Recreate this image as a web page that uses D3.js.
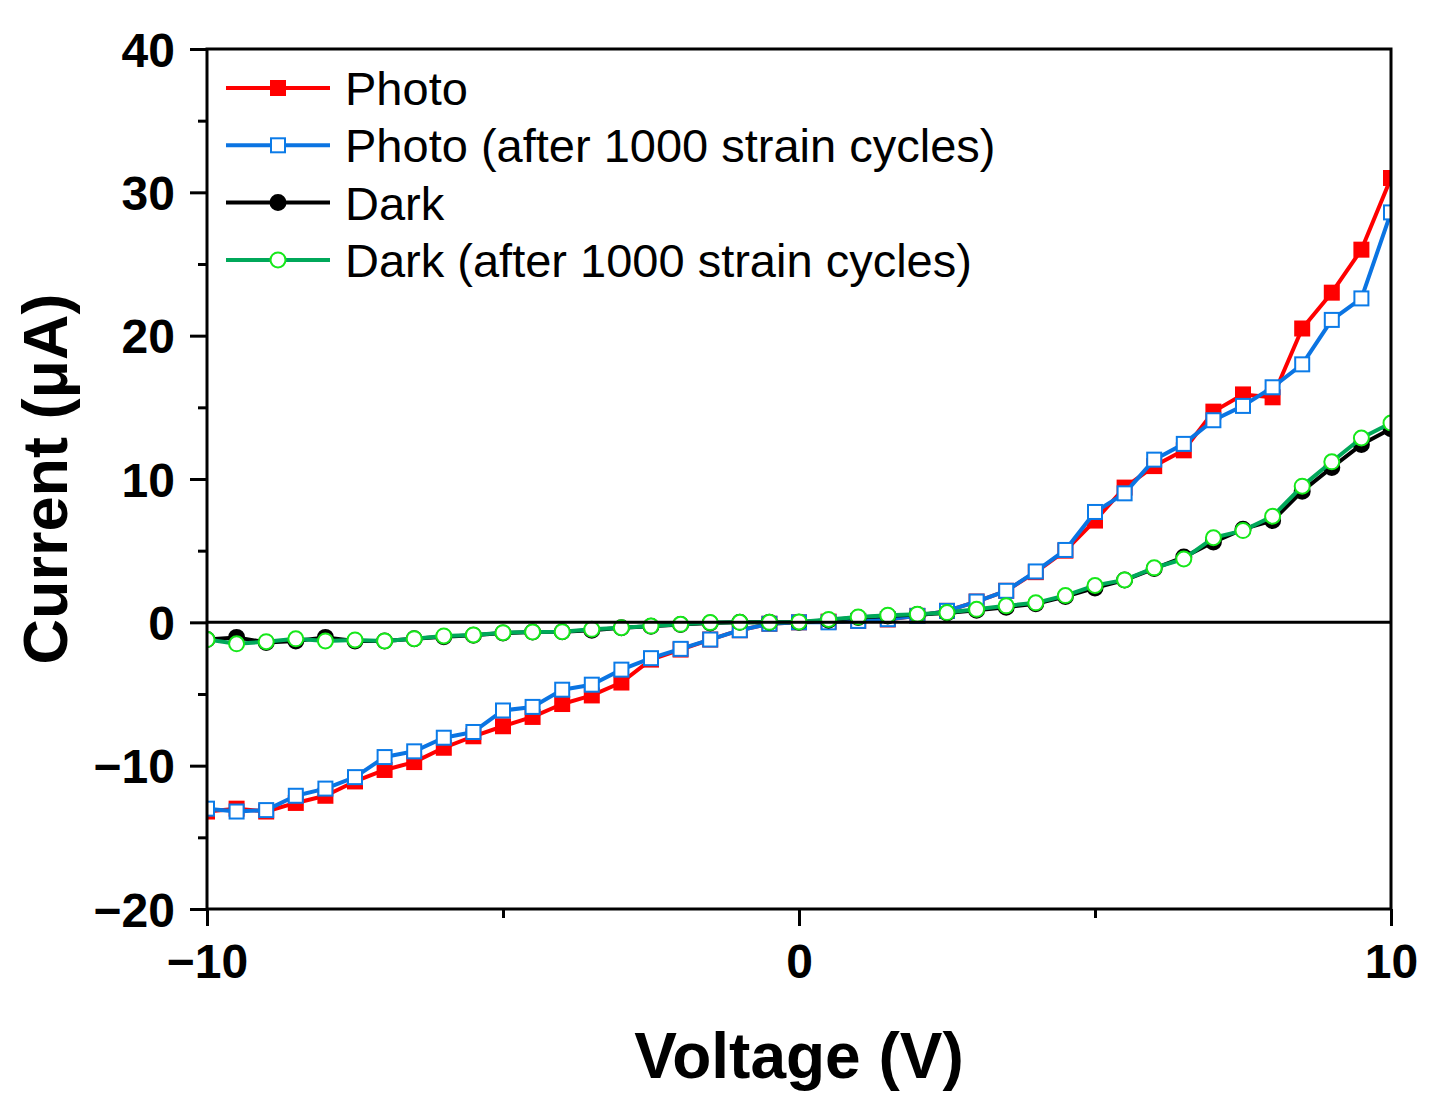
<!DOCTYPE html>
<html>
<head>
<meta charset="utf-8">
<script src="https://cdn.jsdelivr.net/npm/d3@7"></script>
<style>
  body { margin: 0; background: #fff; }
  svg { display: block; font-family: "Liberation Sans", Arial, sans-serif; }
</style>
</head>
<body>
<div class="chart"></div>
<script>
var svgWidth = 1444;
var svgHeight = 1113;

var margin = { top: 49, right: 53, bottom: 204, left: 207 };
var width = svgWidth - margin.left - margin.right;
var height = svgHeight - margin.top - margin.bottom;

// voltage sweep (V)
var voltage = [-10, -9.5, -9, -8.5, -8, -7.5, -7, -6.5, -6, -5.5, -5, -4.5, -4, -3.5, -3, -2.5, -2, -1.5, -1, -0.5,
  0, 0.5, 1, 1.5, 2, 2.5, 3, 3.5, 4, 4.5, 5, 5.5, 6, 6.5, 7, 7.5, 8, 8.5, 9, 9.5, 10];

// current (uA)
var photo = [-13.2, -13.0, -13.2, -12.6, -12.1, -11.1, -10.3, -9.75, -8.75, -7.95, -7.25, -6.6, -5.7, -5.1, -4.2, -2.6, -1.9, -1.2, -0.55, -0.1,
  0, 0.05, 0.1, 0.2, 0.45, 0.8, 1.45, 2.2, 3.5, 5.0, 7.1, 9.4, 10.9, 12.0, 14.7, 15.9, 15.7, 20.5, 23.0, 26.0, 31.0];
var photoAfter = [-13.0, -13.2, -13.1, -12.1, -11.6, -10.8, -9.4, -9.0, -8.05, -7.65, -6.15, -5.9, -4.7, -4.35, -3.3, -2.5, -1.85, -1.2, -0.55, -0.1,
  0, 0.0, 0.1, 0.22, 0.45, 0.8, 1.45, 2.2, 3.55, 5.05, 7.7, 9.0, 11.35, 12.45, 14.1, 15.1, 16.4, 18.0, 21.1, 22.6, 28.6];
var dark = [-1.2, -1.05, -1.4, -1.3, -1.05, -1.3, -1.3, -1.15, -1.0, -0.9, -0.75, -0.68, -0.65, -0.55, -0.38, -0.27, -0.15, -0.05, 0, 0,
  0, 0.15, 0.33, 0.45, 0.55, 0.65, 0.85, 1.05, 1.3, 1.8, 2.4, 2.95, 3.75, 4.55, 5.6, 6.5, 7.1, 9.15, 10.8, 12.4, 13.5];
var darkAfter = [-1.2, -1.5, -1.35, -1.15, -1.3, -1.23, -1.3, -1.14, -0.95, -0.88, -0.72, -0.67, -0.65, -0.49, -0.37, -0.26, -0.14, -0.02, 0, 0,
  0.03, 0.2, 0.38, 0.5, 0.57, 0.68, 0.91, 1.15, 1.36, 1.87, 2.57, 2.96, 3.8, 4.42, 5.9, 6.4, 7.4, 9.5, 11.2, 12.86, 13.9];

var seriesNames = ["Photo", "Photo (after 1000 strain cycles)", "Dark", "Dark (after 1000 strain cycles)"];

var xTicks = [-10, 0, 10];
var xMinorTicks = [-5, 5];
var yTicks = [-20, -10, 0, 10, 20, 30, 40];
var yMinorTicks = [-15, -5, 5, 15, 25, 35];

var series = [
  { name: seriesNames[0], values: photo, line: "#ff0000", marker: "square", fill: "#ff0000", stroke: "#ff0000" },
  { name: seriesNames[1], values: photoAfter, line: "#0b74e2", marker: "square", fill: "#ffffff", stroke: "#0b7be8" },
  { name: seriesNames[2], values: dark, line: "#000000", marker: "circle", fill: "#000000", stroke: "#000000" },
  { name: seriesNames[3], values: darkAfter, line: "#00a85a", marker: "circle", fill: "#ffffff", stroke: "#16e81a" }
];

var svg = d3.select(".chart")
  .append("svg")
  .attr("width", svgWidth)
  .attr("height", svgHeight);

var chartGroup = svg.append("g")
  .attr("transform", `translate(${margin.left}, ${margin.top})`);

var xScale = d3.scaleLinear().domain([-10, 10]).range([0, width]);
var yScale = d3.scaleLinear().domain([-20, 40]).range([height, 0]);

svg.append("defs").append("clipPath")
  .attr("id", "plot-clip")
  .append("rect")
  .attr("width", width)
  .attr("height", height);

var plot = chartGroup.append("g").attr("clip-path", "url(#plot-clip)");

var line = d3.line()
  .x((d, i) => xScale(voltage[i]))
  .y(d => yScale(d));

var squareSize = 14;
var circleR = 7.5;

function drawMarkers(g, s, pts) {
  if (s.marker === "square") {
    g.selectAll("rect")
      .data(pts)
      .enter()
      .append("rect")
      .attr("x", d => d[0] - squareSize / 2)
      .attr("y", d => d[1] - squareSize / 2)
      .attr("width", squareSize)
      .attr("height", squareSize)
      .attr("fill", s.fill)
      .attr("stroke", s.stroke)
      .attr("stroke-width", 2);
  } else {
    g.selectAll("circle")
      .data(pts)
      .enter()
      .append("circle")
      .attr("cx", d => d[0])
      .attr("cy", d => d[1])
      .attr("r", circleR)
      .attr("fill", s.fill)
      .attr("stroke", s.stroke)
      .attr("stroke-width", 2);
  }
}

series.forEach(function(s) {
  var g = plot.append("g");
  g.append("path")
    .datum(s.values)
    .attr("d", line)
    .attr("fill", "none")
    .attr("stroke", s.line)
    .attr("stroke-width", 4)
    .attr("stroke-linejoin", "round");
  var pts = s.values.map((v, i) => [xScale(voltage[i]), yScale(v)]);
  drawMarkers(g, s, pts);
});

// zero line
chartGroup.append("line")
  .attr("x1", 0)
  .attr("x2", width)
  .attr("y1", yScale(0))
  .attr("y2", yScale(0))
  .attr("stroke", "#000")
  .attr("stroke-width", 3);

// axes
var minus = d => d < 0 ? "\u2212" + Math.abs(d) : String(d);

var bottomAxis = d3.axisBottom(xScale)
  .tickValues(xTicks)
  .tickSize(17)
  .tickPadding(18)
  .tickFormat(minus);
var leftAxis = d3.axisLeft(yScale)
  .tickValues(yTicks)
  .tickSize(17)
  .tickPadding(15)
  .tickFormat(minus);

var xAxis = chartGroup.append("g")
  .attr("transform", `translate(0, ${height})`)
  .call(bottomAxis);
var yAxis = chartGroup.append("g")
  .call(leftAxis);

chartGroup.append("g")
  .attr("transform", `translate(0, ${height})`)
  .call(d3.axisBottom(xScale).tickValues(xMinorTicks).tickSize(9).tickFormat(""))
  .call(g => g.select(".domain").remove());
chartGroup.append("g")
  .call(d3.axisLeft(yScale).tickValues(yMinorTicks).tickSize(9).tickFormat(""))
  .call(g => g.select(".domain").remove());

chartGroup.selectAll(".domain").remove();
chartGroup.selectAll(".tick line").attr("stroke", "#000").attr("stroke-width", 3);
[xAxis, yAxis].forEach(function(a) {
  a.selectAll("text")
    .attr("fill", "#000")
    .style("font-size", "48px")
    .style("font-weight", "bold");
});
yAxis.selectAll("text").attr("dy", "0.36em");

// frame
chartGroup.append("rect")
  .attr("width", width)
  .attr("height", height)
  .attr("fill", "none")
  .attr("stroke", "#000")
  .attr("stroke-width", 3);

// axis titles
svg.append("text")
  .attr("x", margin.left + width / 2)
  .attr("y", 1078)
  .attr("text-anchor", "middle")
  .style("font-size", "64px")
  .style("font-weight", "bold")
  .text("Voltage (V)");

svg.append("text")
  .attr("transform", `translate(67, ${margin.top + height / 2}) rotate(-90)`)
  .attr("text-anchor", "middle")
  .style("font-size", "63px")
  .style("font-weight", "bold")
  .text("Current (\u03bcA)");

// legend
var legend = chartGroup.append("g")
  .attr("transform", "translate(19, 39)");

series.forEach(function(s, i) {
  var row = legend.append("g").attr("transform", `translate(0, ${i * 57.3})`);
  row.append("line")
    .attr("x1", 0)
    .attr("x2", 104)
    .attr("stroke", s.line)
    .attr("stroke-width", 4);
  drawMarkers(row, s, [[52, 0]]);
  row.append("text")
    .attr("x", 119)
    .attr("dy", "0.36em")
    .style("font-size", "47px")
    .text(s.name);
});
</script>
</body>
</html>
